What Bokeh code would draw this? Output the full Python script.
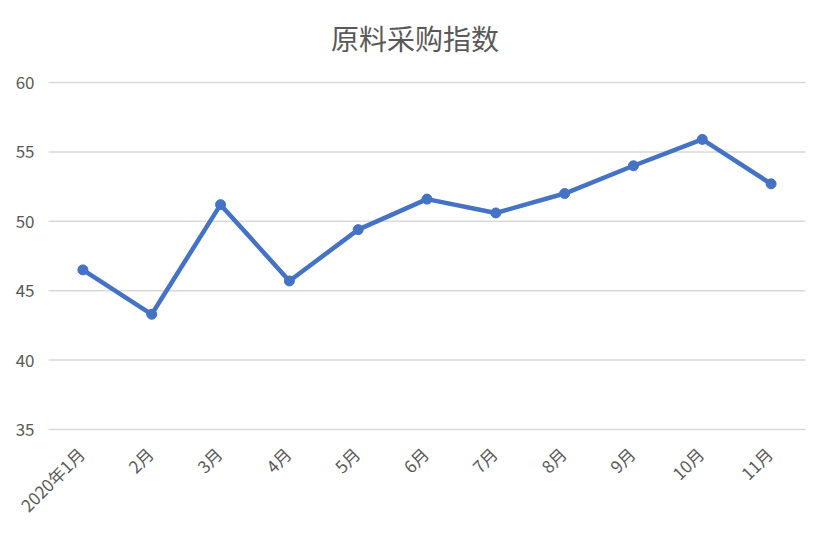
import math
from bokeh.plotting import figure
from bokeh.models import ColumnDataSource, Range1d
from bokeh.core.properties import value
from bokeh.embed import file_html
from bokeh.resources import INLINE

title_text = "原料采购指数"
categories = ["2020年1月", "2月", "3月", "4月", "5月", "6月", "7月", "8月", "9月", "10月", "11月"]
values = [46.5, 43.3, 51.2, 45.7, 49.4, 51.6, 50.6, 52.0, 54.0, 55.9, 52.7]
y_ticks = [35, 40, 45, 50, 55, 60]
y_min, y_max = 35, 60

FONT = "Noto Sans CJK SC"
GRAY = "#595959"
GRID = "#d9d9d9"
BLUE = "#4472C4"

# page geometry (pixels)
W, H = 813, 517
LEFT_PX, RIGHT_PX = 48, 805      # plot-area edges
TOP_PX, BOTTOM_PX = 82, 429      # rows of the 60 and 35 gridlines

n = len(categories)
xs = list(range(n))                       # category slots
kx = (RIGHT_PX - LEFT_PX) / n
x_lo, x_hi = -0.5, n - 0.5
ky = (BOTTOM_PX - TOP_PX) / (y_max - y_min)

p = figure(
    width=W, height=H,
    x_range=Range1d(x_lo - LEFT_PX / kx, x_hi + (W - RIGHT_PX) / kx),
    y_range=Range1d(y_min - (H - BOTTOM_PX) / ky, y_max + TOP_PX / ky),
    output_backend="svg", toolbar_location=None,
    min_border=0,
    outline_line_color=None,
    border_fill_color="white", background_fill_color="white",
)
p.axis.visible = False
p.grid.visible = False

# horizontal gridlines
p.segment(x0=[x_lo] * len(y_ticks), x1=[x_hi] * len(y_ticks), y0=y_ticks, y1=y_ticks,
          line_color=GRID, line_width=1.5)

# y tick labels
p.text(x=[x_lo] * len(y_ticks), y=y_ticks, text=[str(t) for t in y_ticks],
       x_offset=-14, text_align="right", text_baseline="middle",
       text_font=value(FONT), text_font_size="17px", text_color=GRAY)

# series
src = ColumnDataSource(dict(x=xs, y=values))
p.line("x", "y", source=src, line_color=BLUE, line_width=4.5, line_join="round")
p.scatter("x", "y", source=src, size=10, fill_color=BLUE, line_color=BLUE)

# rotated category labels under the 35 gridline
lab_src = ColumnDataSource(dict(x=xs, y=[y_min] * n, t=categories))
p.text("x", "y", text="t", source=lab_src,
       angle=math.pi / 4, x_offset=-2, y_offset=21,
       text_align="right", text_baseline="middle",
       text_font=value(FONT), text_font_size="17px", text_color=GRAY)

# chart title
p.text(x=[(x_lo + x_hi) / 2], y=[y_max], text=[title_text],
       x_offset=-12, y_offset=-45,
       text_align="center", text_baseline="middle",
       text_font=value(FONT), text_font_size="28px", text_color=GRAY)

open("out.html", "w").write(file_html(p, INLINE))
